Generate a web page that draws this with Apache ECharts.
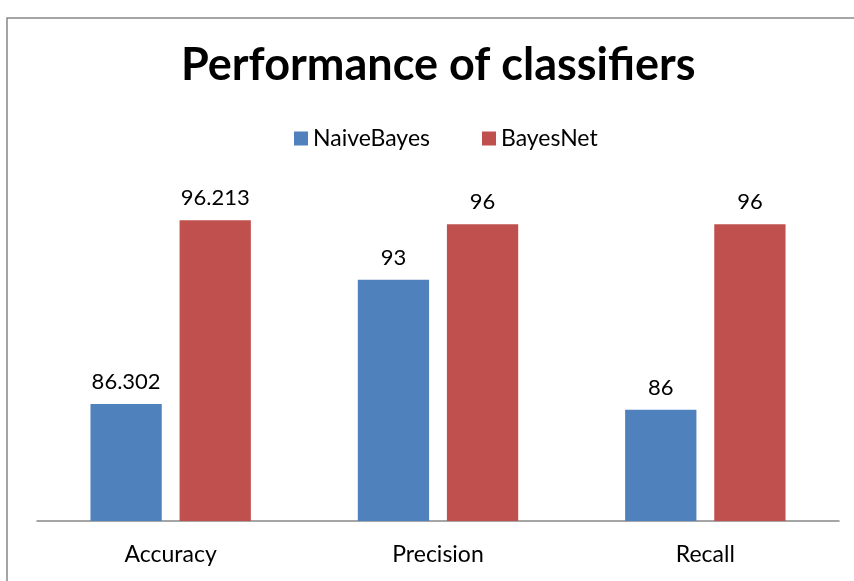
<!DOCTYPE html>
<html>
<head>
<meta charset="utf-8">
<script src="https://cdn.jsdelivr.net/npm/echarts@6/dist/echarts.min.js"></script>
<style>
  html, body { margin: 0; padding: 0; background: #fff; }
  #main { width: 854px; height: 581px; }
</style>
</head>
<body>
<div id="main"></div>
<script>
// 数据
const categories = ['Accuracy', 'Precision', 'Recall'];
const naiveBayes = [86.302, 93, 86];
const bayesNet = [96.213, 96, 96];

const chart = echarts.init(document.getElementById('main'));
const font = 'Lato, "Open Sans", sans-serif';

const option = {
  backgroundColor: '#fff',
  animation: false,
  title: {
    text: 'Performance of classifiers',
    left: 176,
    top: 38,
    textStyle: { fontFamily: font, fontSize: 45, fontWeight: 'bold', color: '#000' }
  },
  legend: {
    top: 122,
    left: 289,
    itemWidth: 14,
    itemHeight: 14,
    itemGap: 52,
    itemStyle: { borderWidth: 0 },
    icon: 'rect',
    textStyle: { fontFamily: font, fontSize: 23, color: '#000' },
    data: ['NaiveBayes', 'BayesNet']
  },
  graphic: [{
    type: 'rect',
    shape: { x: 7, y: 18, width: 860, height: 600 },
    style: { fill: 'none', stroke: '#888', lineWidth: 1.5 },
    silent: true
  }],
  grid: { left: 37, right: 15, top: 150, bottom: 60 },
  xAxis: {
    type: 'category',
    data: categories,
    axisLine: { lineStyle: { color: '#888', width: 1.5 } },
    axisTick: { show: false },
    axisLabel: { fontFamily: font, fontSize: 23, color: '#000', margin: 22 }
  },
  yAxis: {
    type: 'value',
    min: 80,
    max: 100,
    show: false,
    splitLine: { show: false }
  },
  series: [
    {
      name: 'NaiveBayes',
      type: 'bar',
      data: naiveBayes,
      barGap: '25%',
      barCategoryGap: '40%',
      itemStyle: { color: '#4f81bd' },
      label: { show: true, position: 'top', distance: 11, fontFamily: font, fontSize: 22, color: '#000' }
    },
    {
      name: 'BayesNet',
      type: 'bar',
      data: bayesNet,
      itemStyle: { color: '#c0504d' },
      label: { show: true, position: 'top', distance: 11, fontFamily: font, fontSize: 22, color: '#000' }
    }
  ]
};

chart.setOption(option);
</script>
</body>
</html>
